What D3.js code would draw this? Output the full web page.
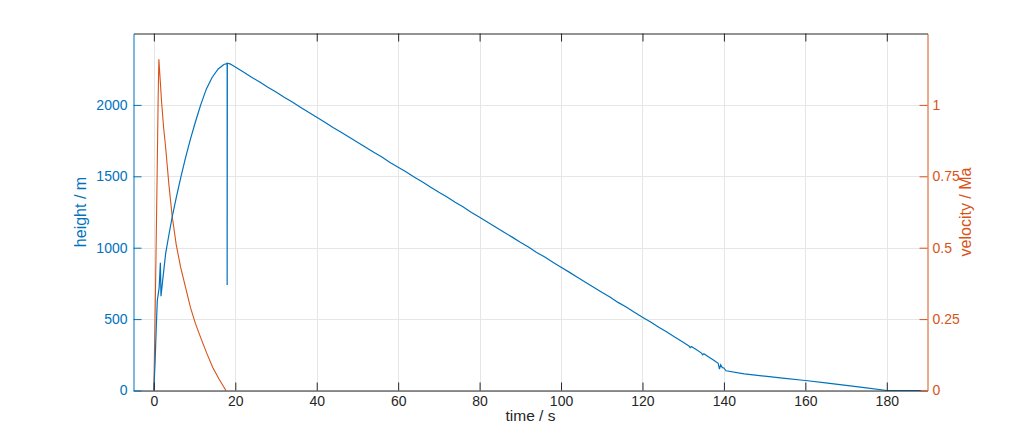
<!DOCTYPE html>
<html>
<head>
<meta charset="utf-8">
<script src="https://cdn.jsdelivr.net/npm/d3@7/dist/d3.min.js"></script>
<style>
  body { margin: 0; background: #fff; }
  text { font-family: "Liberation Sans", Arial, sans-serif; }
</style>
</head>
<body>
<script>
// height trace (left axis)
const heightTime = [0, 0.3, 0.6, 0.85, 1.3, 1.6, 1.75, 2.2, 2.9, 3.6, 4.5, 5.5, 6.6, 7.8, 9.0, 10.2, 11.5, 12.9, 14.3, 15.8, 17.2, 17.95,
  18.0, 18.0, 18.05, 18.4, 18.7, 19.3, 20, 22, 24, 26, 28, 30, 32, 34, 36, 38, 40, 42, 44, 46, 48, 50, 52, 54, 56, 58, 60, 62, 64, 66, 68, 70,
  72, 74, 76, 78, 80, 82, 84, 86, 88, 90, 92, 94, 96, 98, 100, 102, 104, 106, 108, 110, 112, 114, 116, 118, 120, 122, 124, 126,
  128, 130, 131.4, 131.7, 132.0, 133, 134.5, 134.8, 135.1, 136, 137.5, 138.6, 138.9, 139.2, 139.6, 140.0, 140.5, 145, 150, 155, 160, 165, 170,
  175, 180, 184, 188.5];
const heightValues = [0, 200, 450, 630, 720, 895, 660, 780, 960, 1075, 1215, 1350, 1490, 1632, 1762, 1880, 2000, 2112, 2192, 2252, 2283, 2289,
  2297, 738, 2290, 2290, 2287, 2277, 2265, 2230, 2194, 2160, 2123, 2090, 2053, 2020, 1984, 1948, 1914, 1879, 1841, 1808, 1773, 1738, 1704, 1668, 1635, 1597,
  1563, 1530, 1493, 1460, 1423, 1388, 1355, 1318, 1285, 1247, 1213, 1179, 1143, 1108, 1074, 1038, 1005, 967, 935, 898, 863, 829, 793, 758,
  723, 688, 655, 617, 585, 548, 513, 479, 443, 409, 373, 338, 312, 300, 308, 290, 262, 250, 258, 240, 212, 190, 150, 180, 160, 158, 138, 116, 100,
  85, 70, 53, 36, 18, 0, 0, 0];

// velocity trace (right axis)
const velocityTime = [0, 0.4, 0.8, 1.05, 1.23, 1.5, 1.9, 2.4, 2.9, 3.7, 4.5, 5.5, 6.6, 7.8, 9.0, 10.2, 11.5, 13.0, 14.5, 16.0, 17.7];
const velocityValues = [0, 0.35, 0.75, 1.02, 1.16, 1.1, 1.01, 0.92, 0.85, 0.72, 0.61, 0.51, 0.43, 0.36, 0.29, 0.235, 0.185, 0.13, 0.08, 0.04, 0];

const xTicks = [0, 20, 40, 60, 80, 100, 120, 140, 160, 180];
const leftTicks = [0, 500, 1000, 1500, 2000];
const rightTicks = [0, 0.25, 0.5, 0.75, 1];

const blue = "#0072BD", orange = "#D95319", dark = "#262626";
const W = 1024, H = 439;
const plotL = 133.5, plotR = 927.5, plotT = 33.5, plotB = 390.5;

const svg = d3.select("body").append("svg")
  .attr("width", W)
  .attr("height", H);

const x = d3.scaleLinear().domain([-5, 190]).range([plotL, plotR]);
const yL = d3.scaleLinear().domain([0, 2500]).range([plotB, plotT]);
const yR = d3.scaleLinear().domain([0, 1.25]).range([plotB, plotT]);

// grid
const grid = svg.append("g").attr("stroke", "#e6e6e6").attr("stroke-width", 1);
grid.selectAll(".gx").data(xTicks).join("line")
  .attr("x1", d => Math.round(x(d)) + 0.5).attr("x2", d => Math.round(x(d)) + 0.5)
  .attr("y1", plotT).attr("y2", plotB);
grid.selectAll(".gy").data(leftTicks).join("line")
  .attr("x1", plotL).attr("x2", plotR)
  .attr("y1", d => Math.round(yL(d)) + 0.5).attr("y2", d => Math.round(yL(d)) + 0.5);

// lines
const hData = heightTime.map((t, i) => ({t: t, v: heightValues[i]}));
const vData = velocityTime.map((t, i) => ({t: t, v: velocityValues[i]}));

svg.append("path")
  .attr("d", d3.line().x(d => x(d.t)).y(d => yR(d.v))(vData))
  .attr("fill", "none").attr("stroke", orange).attr("stroke-width", 1.1);

svg.append("path")
  .attr("d", d3.line().x(d => x(d.t)).y(d => yL(d.v))(hData))
  .attr("fill", "none").attr("stroke", blue).attr("stroke-width", 1.2);

// axes
function style(g, color) {
  g.select(".domain").attr("stroke", color);
  g.selectAll(".tick line").attr("stroke", color);
  g.selectAll(".tick text").attr("fill", color).attr("font-size", 14);
}

svg.append("g").attr("transform", `translate(0,${plotB})`)
  .call(d3.axisBottom(x).tickValues(xTicks).tickSize(-8).tickSizeOuter(0).tickPadding(6))
  .call(g => style(g, dark));

svg.append("g").attr("transform", `translate(0,${plotT})`)
  .call(d3.axisTop(x).tickValues(xTicks).tickSize(-8).tickSizeOuter(0).tickFormat(""))
  .call(g => style(g, dark));

svg.append("g").attr("transform", `translate(${plotL},0)`)
  .call(d3.axisLeft(yL).tickValues(leftTicks).tickSize(-8).tickSizeOuter(0).tickPadding(6)
    .tickFormat(d3.format("d")))
  .call(g => style(g, blue));

svg.append("g").attr("transform", `translate(${plotR},0)`)
  .call(d3.axisRight(yR).tickValues(rightTicks).tickSize(-8).tickSizeOuter(0).tickPadding(5)
    .tickFormat(d => String(d)))
  .call(g => style(g, orange));

// labels
svg.append("text")
  .attr("x", (plotL + plotR) / 2).attr("y", 421)
  .attr("text-anchor", "middle").attr("font-size", 15.5).attr("fill", dark)
  .text("time / s");

svg.append("text")
  .attr("transform", `translate(86,${(plotT + plotB) / 2}) rotate(-90)`)
  .attr("text-anchor", "middle").attr("font-size", 16).attr("fill", blue)
  .text("height / m");

svg.append("text")
  .attr("transform", `translate(971,${(plotT + plotB) / 2}) rotate(-90)`)
  .attr("text-anchor", "middle").attr("font-size", 16).attr("fill", orange)
  .text("velocity / Ma");
</script>
</body>
</html>
